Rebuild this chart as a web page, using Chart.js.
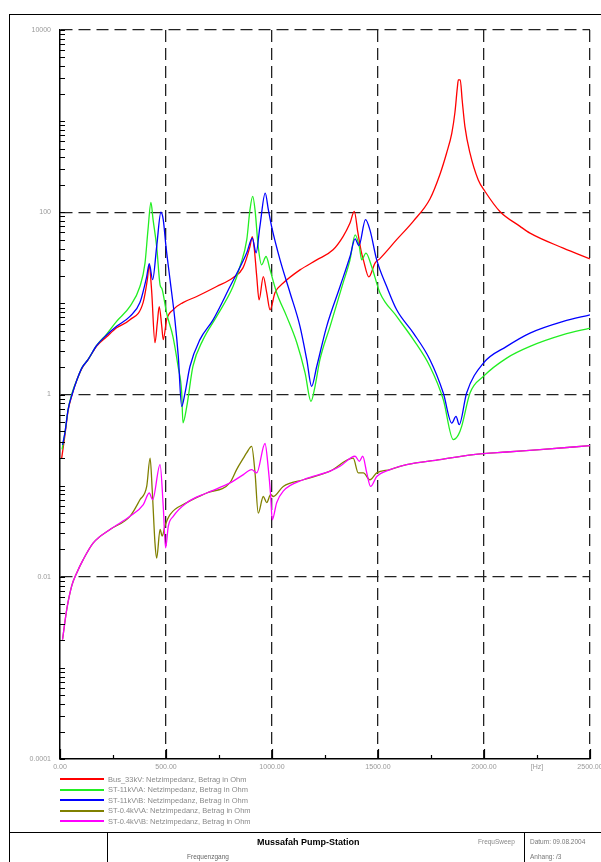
<!DOCTYPE html>
<html>
<head>
<meta charset="utf-8">
<script src="https://cdn.jsdelivr.net/npm/chart.js@4.4.1/dist/chart.umd.min.js"></script>
<style>
  html, body { margin: 0; padding: 0; background: #fff; overflow: hidden; width: 601px; height: 862px; }
  body { position: relative; font-family: "Liberation Sans", Arial, sans-serif; }
  #chartBox { position: absolute; left: 0; top: 0; width: 620px; height: 790px; }
  .frame-top { position: absolute; left: 9px; top: 14px; width: 620px; border-top: 1.5px solid #000; }
  .frame-left { position: absolute; left: 9px; top: 14px; height: 900px; border-left: 1.5px solid #000; }
  .tb-top { position: absolute; left: 9px; top: 832px; width: 620px; border-top: 1.5px solid #000; }
  .tb-div { position: absolute; top: 832px; height: 40px; border-left: 1.5px solid #000; }
  .txt { position: absolute; white-space: nowrap; line-height: 1; }
  #legend { position: absolute; left: 60px; top: 774px; }
  .row { display: flex; align-items: center; height: 10.5px; font-size: 7.5px; color: #8a8a8a; white-space: nowrap; }
  .row .ln { width: 44px; height: 2px; margin-right: 4px; }
</style>
</head>
<body>
<div id="chartBox"><canvas id="c" width="620" height="790"></canvas></div>
<div class="frame-top"></div>
<div class="frame-left"></div>
<div id="legend"></div>
<div class="tb-top"></div>
<div class="tb-div" style="left:107px"></div>
<div class="tb-div" style="left:524px"></div>
<div class="txt" style="left:257px;top:838px;font-size:9px;font-weight:bold;color:#000">Mussafah Pump-Station</div>
<div class="txt" style="left:187px;top:854px;font-size:6.5px;color:#666">Frequenzgang</div>
<div class="txt" style="left:478px;top:839px;font-size:6.5px;color:#888">FrequSweep</div>
<div class="txt" style="left:530px;top:839px;font-size:6.5px;color:#777">Datum: 09.08.2004</div>
<div class="txt" style="left:530px;top:854px;font-size:6.5px;color:#777">Anhang: /3</div>
<script>
// impedance curves, [Hz, Ohm]
const bus33kV = [[8,0.2],[24,0.37],[38,0.66],[57,1.0],[80,1.45],[104,1.95],[132,2.4],[173,3.4],[220,4.3],[267,5.4],[330,6.6],[392,10.2],[412,18.2],[421,26.5],[432,14],[448,3.7],[459,6.1],[468,9.2],[480,5.6],[487,4.0],[503,6.6],[533,8.5],[580,10.2],[645,11.9],[739,15.3],[816,19.1],[863,24.5],[896,42],[907,54],[917,38.7],[928,19.7],[939,10.9],[959,19.7],[975,13.1],[991,8.5],[1014,13.1],[1053,16.7],[1132,23.3],[1211,30],[1288,38.7],[1335,54],[1368,76],[1388,102],[1405,60],[1420,38],[1431,30],[1457,19.5],[1486,27.7],[1509,31],[1588,50],[1667,80],[1745,140],[1792,260],[1824,450],[1848,736],[1863,1250],[1874,2300],[1879,2830],[1888,2830],[1897,1706],[1910,871],[1934,445],[1973,226],[2005,169],[2075,102],[2170,70],[2217,59],[2374,40.4],[2500,30.8]];
const st11kVA = [[10,0.25],[24,0.39],[38,0.68],[57,1.04],[80,1.45],[104,1.97],[132,2.41],[173,3.45],[220,4.6],[267,6.34],[330,9.25],[377,15.3],[401,27.7],[415,64],[429,128],[439,83],[456,42],[472,16],[481,14.5],[503,7.8],[533,4.3],[557,2.03],[574,1.05],[580,0.49],[598,0.74],[627,2.03],[675,4.0],[739,7.2],[816,15.3],[849,25.4],[881,50],[896,106],[909,149],[920,106],[935,42],[951,26.5],[972,32.7],[991,23.3],[1022,13.1],[1069,7.2],[1117,3.7],[1156,1.73],[1184,0.84],[1203,1.23],[1226,2.41],[1274,5.6],[1335,16.7],[1368,30],[1392,56.5],[1412,42],[1423,30],[1443,35.6],[1470,25.4],[1509,13.1],[1588,7.2],[1667,4.0],[1745,2.03],[1808,0.88],[1855,0.32],[1879,0.36],[1895,0.45],[1934,1.04],[1997,1.58],[2107,2.51],[2217,3.37],[2374,4.53],[2500,5.36]];
const st11kVB = [[12,0.28],[24,0.39],[38,0.68],[57,1.0],[80,1.45],[104,1.97],[132,2.41],[173,3.45],[220,4.5],[267,5.6],[330,7.2],[377,10.2],[409,19.7],[421,27.2],[437,18.2],[456,42],[476,100],[487,83],[500,42],[519,18.2],[542,6.6],[558,2.62],[574,0.74],[590,1.05],[613,2.03],[660,4.0],[722,6.6],[802,15.3],[881,35.9],[907,52],[925,35.9],[943,70],[968,162],[983,106],[998,70],[1038,30],[1085,13.1],[1132,5.6],[1164,2.41],[1187,1.23],[1211,2.03],[1258,5.6],[1321,15.3],[1368,32.7],[1392,51],[1410,43],[1441,83],[1462,64],[1494,30],[1541,15.3],[1588,8.5],[1667,4.72],[1745,2.41],[1808,1.04],[1848,0.486],[1868,0.575],[1883,0.467],[1918,1.04],[1997,2.21],[2107,3.37],[2217,4.72],[2374,6.34],[2500,7.5]];
const st04kVA = [[12,0.00205],[32,0.0044],[55,0.0079],[79,0.011],[110,0.0155],[157,0.0235],[236,0.033],[330,0.046],[377,0.07],[409,0.098],[425,0.2],[435,0.09],[448,0.0235],[456,0.016],[472,0.033],[482,0.028],[495,0.036],[519,0.048],[598,0.065],[692,0.083],[802,0.108],[833,0.15],[865,0.2],[881,0.23],[904,0.27],[920,0.138],[935,0.05],[959,0.076],[975,0.065],[994,0.08],[1006,0.076],[1053,0.098],[1148,0.116],[1274,0.144],[1383,0.2],[1407,0.138],[1431,0.138],[1462,0.116],[1494,0.138],[1557,0.15],[1635,0.17],[1792,0.193],[1950,0.219],[2107,0.234],[2264,0.248],[2500,0.275]];
const st04kVB = [[12,0.00205],[32,0.0044],[55,0.0079],[79,0.011],[110,0.0155],[157,0.0235],[236,0.033],[330,0.046],[393,0.062],[421,0.083],[437,0.07],[472,0.17],[487,0.059],[498,0.0207],[511,0.036],[534,0.046],[598,0.065],[692,0.083],[802,0.107],[865,0.132],[904,0.15],[928,0.138],[967,0.29],[983,0.15],[994,0.076],[1001,0.042],[1022,0.065],[1053,0.087],[1148,0.116],[1274,0.144],[1321,0.163],[1392,0.21],[1412,0.185],[1428,0.21],[1447,0.138],[1465,0.098],[1494,0.126],[1557,0.15],[1635,0.17],[1792,0.193],[1950,0.219],[2107,0.234],[2264,0.248],[2500,0.275]];

const seriesNames = [
  "Bus_33kV: Netzimpedanz, Betrag in Ohm",
  "ST-11kV\\A: Netzimpedanz, Betrag in Ohm",
  "ST-11kV\\B: Netzimpedanz, Betrag in Ohm",
  "ST-0.4kV\\A: Netzimpedanz, Betrag in Ohm",
  "ST-0.4kV\\B: Netzimpedanz, Betrag in Ohm"
];
const series = [bus33kV, st11kVA, st11kVB, st04kVA, st04kVB];
const seriesColors = ["#ff0000", "#22ee22", "#0000ff", "#808000", "#ff00ff"];

// axes
const xTickValues = [0, 500, 1000, 1500, 2000, 2250, 2500];
const xTickLabels = ["0.00", "500.00", "1000.00", "1500.00", "2000.00", "[Hz]", "2500.00"];
const yMajor = [10000, 100, 1, 0.01, 0.0001];
const yLabels = ["10000", "100", "1", "0.01", "0.0001"];

const yTickValues = [];
for (let k = -4; k < 4; k++) {
  for (let m = 1; m < 10; m++) yTickValues.push(Number((m * Math.pow(10, k)).toPrecision(6)));
}
yTickValues.push(10000);

const font = { family: "'Liberation Sans', Arial, sans-serif", size: 7 };

// small tick marks drawn inward from the axes
const innerTicks = {
  id: "innerTicks",
  afterDatasetsDraw(chart) {
    const { ctx, chartArea: a, scales: { x, y } } = chart;
    ctx.save();
    ctx.strokeStyle = "#000";
    ctx.lineWidth = 1.2;
    ctx.beginPath();
    y.ticks.forEach((t) => {
      const py = Math.round(y.getPixelForValue(t.value)) + 0.5;
      ctx.moveTo(a.left, py);
      ctx.lineTo(a.left + 5, py);
    });
    x.ticks.forEach((t) => {
      const px = Math.round(x.getPixelForValue(t.value)) + 0.5;
      const len = t.value % 500 === 0 ? 10 : 4;
      ctx.moveTo(px, a.bottom);
      ctx.lineTo(px, a.bottom - len);
    });
    ctx.stroke();
    ctx.restore();
  },
};

const chart = new Chart(document.getElementById("c"), {
  type: "line",
  data: {
    datasets: series.map((s, i) => ({
      label: seriesNames[i],
      data: s.map(([f, z]) => ({ x: f, y: z })),
      borderColor: seriesColors[i],
      borderWidth: 1.3,
      pointRadius: 0,
      fill: false,
      cubicInterpolationMode: "monotone",
      order: 5 - i,
    })),
  },
  options: {
    responsive: false,
    animation: false,
    devicePixelRatio: 1,
    layout: { padding: { top: 30, right: 30, left: 0, bottom: 0 } },
    plugins: { legend: { display: false }, tooltip: { enabled: false } },
    scales: {
      x: {
        type: "linear",
        min: 0,
        max: 2500,
        ticks: {
          stepSize: 250,
          autoSkip: false,
          maxRotation: 0,
          padding: 4,
          color: "#999",
          font: font,
          callback: (v) => {
            const i = xTickValues.indexOf(v);
            return i < 0 ? "" : xTickLabels[i];
          },
        },
        grid: {
          drawTicks: false,
          lineWidth: 1.3,
          color: (c) => (c.tick && c.tick.value % 500 === 0 && c.tick.value !== 0 ? "#222" : "transparent"),
        },
        border: { display: true, color: "#000", width: 1.5, dash: [12, 6] },
        afterFit: (s) => { s.height = 31; },
      },
      y: {
        type: "logarithmic",
        min: 0.0001,
        max: 10000,
        afterBuildTicks: (s) => { s.ticks = yTickValues.map((v) => ({ value: v })); },
        ticks: {
          autoSkip: false,
          padding: 9,
          color: "#999",
          font: font,
          callback: (v) => {
            const i = yMajor.indexOf(v);
            return i < 0 ? "" : yLabels[i];
          },
        },
        grid: {
          drawTicks: false,
          lineWidth: 1.3,
          color: (c) => (c.tick && yMajor.includes(c.tick.value) && c.tick.value !== 0.0001 ? "#222" : "transparent"),
        },
        border: { display: true, color: "#000", width: 1.5, dash: [12, 6] },
        afterFit: (s) => { s.width = 60; },
      },
    },
  },
  plugins: [innerTicks],
});

// legend below the plot
const legend = document.getElementById("legend");
chart.data.datasets.forEach((ds) => {
  const row = document.createElement("div");
  row.className = "row";
  row.innerHTML = '<span class="ln" style="background:' + ds.borderColor + '"></span><span></span>';
  row.lastChild.textContent = ds.label;
  legend.appendChild(row);
});
</script>
</body>
</html>
